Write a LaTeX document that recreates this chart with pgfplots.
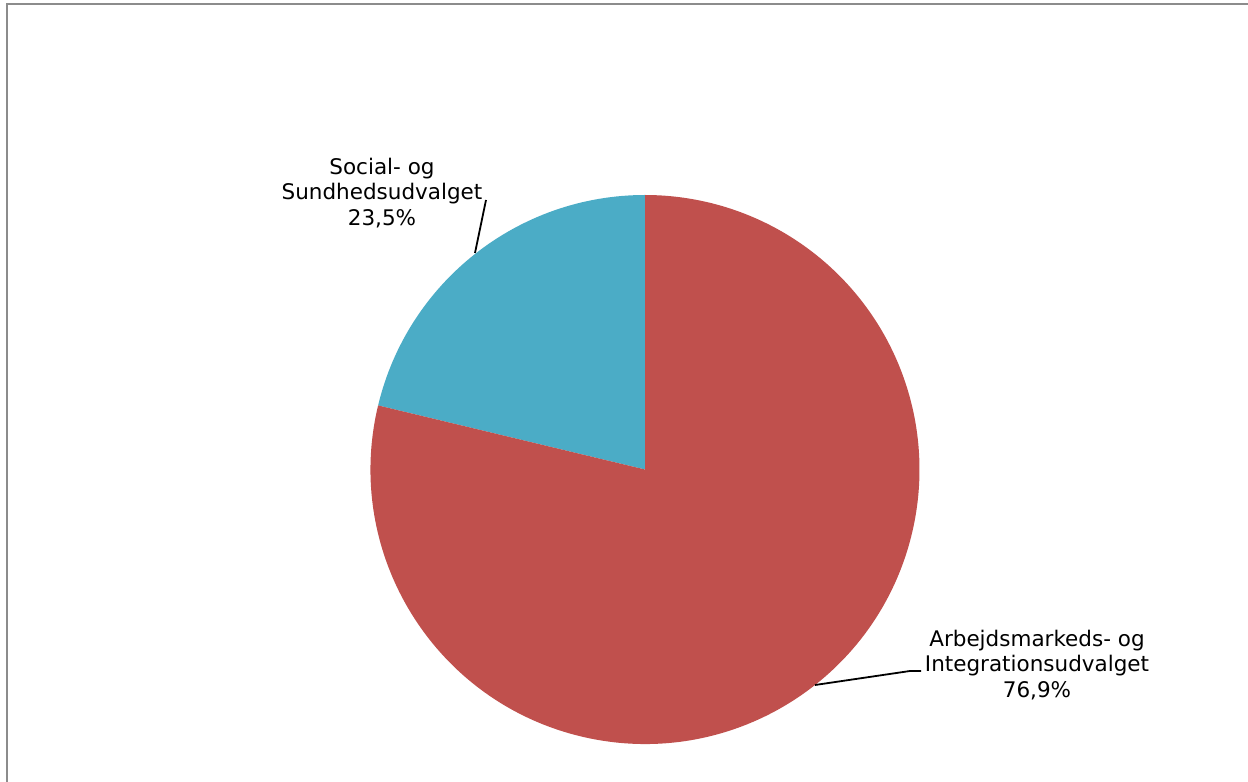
\documentclass[border=0pt]{standalone}
\usepackage{pgfplots}
\pgfplotsset{compat=1.18}
\usepackage{pgfplotstable}
\usepackage{fontspec}
\setmainfont{DejaVu Sans}

\definecolor{sliceblue}{HTML}{4BACC6}
\definecolor{slicered}{HTML}{C0504D}
\definecolor{framegray}{HTML}{8C8C8C}

% share of the circle as drawn (percent), start angle 90, counter clockwise
\pgfplotstableread{
name share
social 21.25
arbejd 78.75
}\piedata

\begin{document}
\begin{tikzpicture}
\clip (0,0) rectangle (624pt,391pt);
\begin{axis}[
  x=0.5pt, y=0.5pt,
  xmin=0, xmax=1248, ymin=0, ymax=782,
  hide axis, clip=false,
]
\pgfplotstablegetelem{0}{share}\of\piedata \let\sa\pgfplotsretval
\pgfplotstablegetelem{1}{share}\of\piedata \let\sb\pgfplotsretval
\pgfmathsetmacro\aone{90+3.6*\sa}
\pgfmathsetmacro\atwo{\aone+3.6*\sb}
% pie centre (645,312.5), radius 274.5 px
\fill[sliceblue] (axis cs:645,312.5) -- ++(90:137.25pt) arc[start angle=90, end angle=\aone, radius=137.25pt] -- cycle;
\fill[slicered] (axis cs:645,312.5) -- ++(\aone:137.25pt) arc[start angle=\aone, end angle=\atwo, radius=137.25pt] -- cycle;
% leader lines
\draw[line width=0.9pt] (axis cs:486,582) -- (axis cs:475,529);
\draw[line width=0.9pt] (axis cs:815,97) -- (axis cs:910,111) -- (axis cs:921,111);
% labels
\node[align=center, font=\fontsize{10.75}{12.9}\selectfont, inner sep=0pt] at (axis cs:382,589)
  {Social- og\\Sundhedsudvalget\\23,5\%};
\node[align=center, font=\fontsize{10.75}{12.9}\selectfont, inner sep=0pt] at (axis cs:1037,117)
  {Arbejdsmarkeds- og\\Integrationsudvalget\\76,9\%};
% frame
\draw[framegray, line width=1pt] (axis cs:7,-20) -- (axis cs:7,777.5) -- (axis cs:1280,777.5);
\end{axis}
\end{tikzpicture}
\end{document}
